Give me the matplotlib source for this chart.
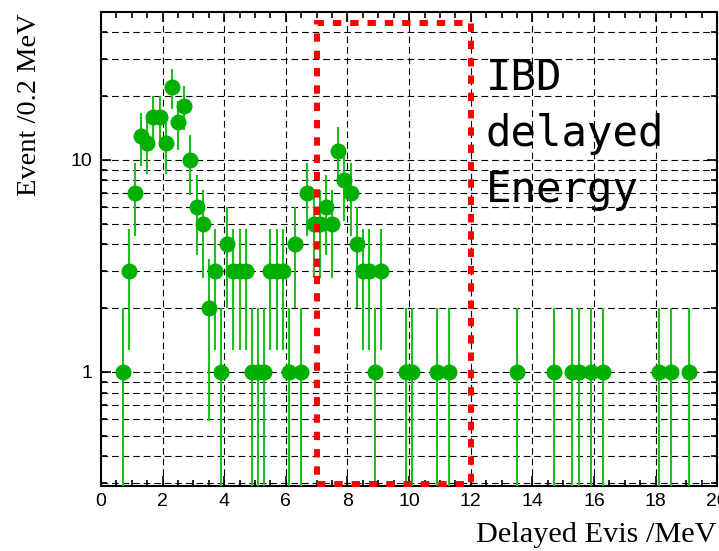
import numpy as np
import matplotlib
matplotlib.use('Agg')
import matplotlib.pyplot as plt
from matplotlib.patches import Rectangle
from matplotlib.ticker import FixedLocator, MultipleLocator, NullFormatter, FixedFormatter

# delayed visible energy, bin centres of 0.2 MeV bins, and counts per bin
energy = [0.7, 0.9, 1.1, 1.3, 1.5, 1.7, 1.9, 2.1, 2.3, 2.5, 2.7, 2.9, 3.1, 3.3,
          3.5, 3.7, 3.9, 4.1, 4.3, 4.5, 4.7, 4.9, 5.1, 5.3, 5.5, 5.7, 5.9, 6.1,
          6.3, 6.5, 6.7, 6.9, 7.1, 7.3, 7.5, 7.7, 7.9, 8.1, 8.3, 8.5, 8.7, 8.9,
          9.1, 9.9, 10.1, 10.9, 11.3, 13.5, 14.7, 15.3, 15.5, 15.9, 16.3, 18.1,
          18.5, 19.1]
counts = [1, 3, 7, 13, 12, 16, 16, 12, 22, 15, 18, 10, 6, 5,
          2, 3, 1, 4, 3, 3, 3, 1, 1, 1, 3, 3, 3, 1,
          4, 1, 7, 5, 5, 6, 5, 11, 8, 7, 4, 3, 3, 1,
          3, 1, 1, 1, 1, 1, 1, 1, 1, 1, 1, 1,
          1, 1]

# selection window for the delayed signal
win_lo, win_hi = 7.0, 12.0
win_bottom, win_top = 0.295, 44.0

x_ticks = [0, 2, 4, 6, 8, 10, 12, 14, 16, 18, 20]
y_ticks = [1, 10]
y_ticklabels = ['1', '10']

x = np.array(energy)
y = np.array(counts, dtype=float)
err = np.sqrt(y)
lower = y - np.clip(y - err, 1e-3, None)

fig = plt.figure(figsize=(7.19, 5.51), dpi=100)
ax = fig.add_axes([0.1405, 0.118, 0.857, 0.861])

ax.set_yscale('log')
ax.set_xlim(0, 20)
ax.set_ylim(0.29, 50)

green = '#00b000'
ax.errorbar(x, y, yerr=[lower, err], fmt='o', color=green, ms=10.5,
            elinewidth=1.5, ecolor='#1fbf1f', capsize=0, zorder=3)

# grid on every log step and every major x tick
minor_y = [v * d for d in (0.1, 1, 10) for v in range(2, 10)]
minor_y = [v for v in minor_y if 0.29 < v < 50]
grid_kw = dict(color='black', lw=0.8, ls=(0, (6, 3.5)), zorder=1)
for v in minor_y + y_ticks:
    ax.axhline(v, **grid_kw)
for v in x_ticks[1:-1]:
    ax.axvline(v, **grid_kw)

ax.add_patch(Rectangle((win_lo, win_bottom), win_hi - win_lo, win_top - win_bottom,
                       fill=False, edgecolor='#ff0000', lw=4.3,
                       ls=(0, (1.4, 1.5)), clip_on=False, zorder=4))

ax.text(486 / 719, 1 - 57 / 551, 'IBD\ndelayed\nEnergy', transform=fig.transFigure,
        family='DejaVu Sans Mono', fontsize=30.5, va='top', ha='left',
        linespacing=1.42, zorder=5)

ax.xaxis.set_major_locator(FixedLocator(x_ticks))
ax.xaxis.set_minor_locator(MultipleLocator(0.5))
ax.yaxis.set_major_locator(FixedLocator(y_ticks))
ax.yaxis.set_major_formatter(FixedFormatter(y_ticklabels))
ax.yaxis.set_minor_locator(FixedLocator(minor_y))
ax.yaxis.set_minor_formatter(NullFormatter())

ax.tick_params(which='both', direction='in', top=True, right=True, width=1.2,
               labelsize=14, labelfontfamily='Liberation Sans')
ax.tick_params(which='major', length=7)
ax.tick_params(which='minor', length=4)
ax.tick_params(axis='x', pad=5)
ax.tick_params(axis='y', pad=6)
for s in ax.spines.values():
    s.set_linewidth(1.5)

fig.text(0.997, 1 - 535 / 551, 'Delayed Evis /MeV', family='Liberation Serif',
         fontsize=21.8, ha='right', va='center')
fig.text(30 / 719, 1 - 13 / 551, 'Event /0.2 MeV', family='Liberation Serif',
         fontsize=20.5, rotation=90, ha='center', va='top')

fig.savefig('out.png', dpi=100)
